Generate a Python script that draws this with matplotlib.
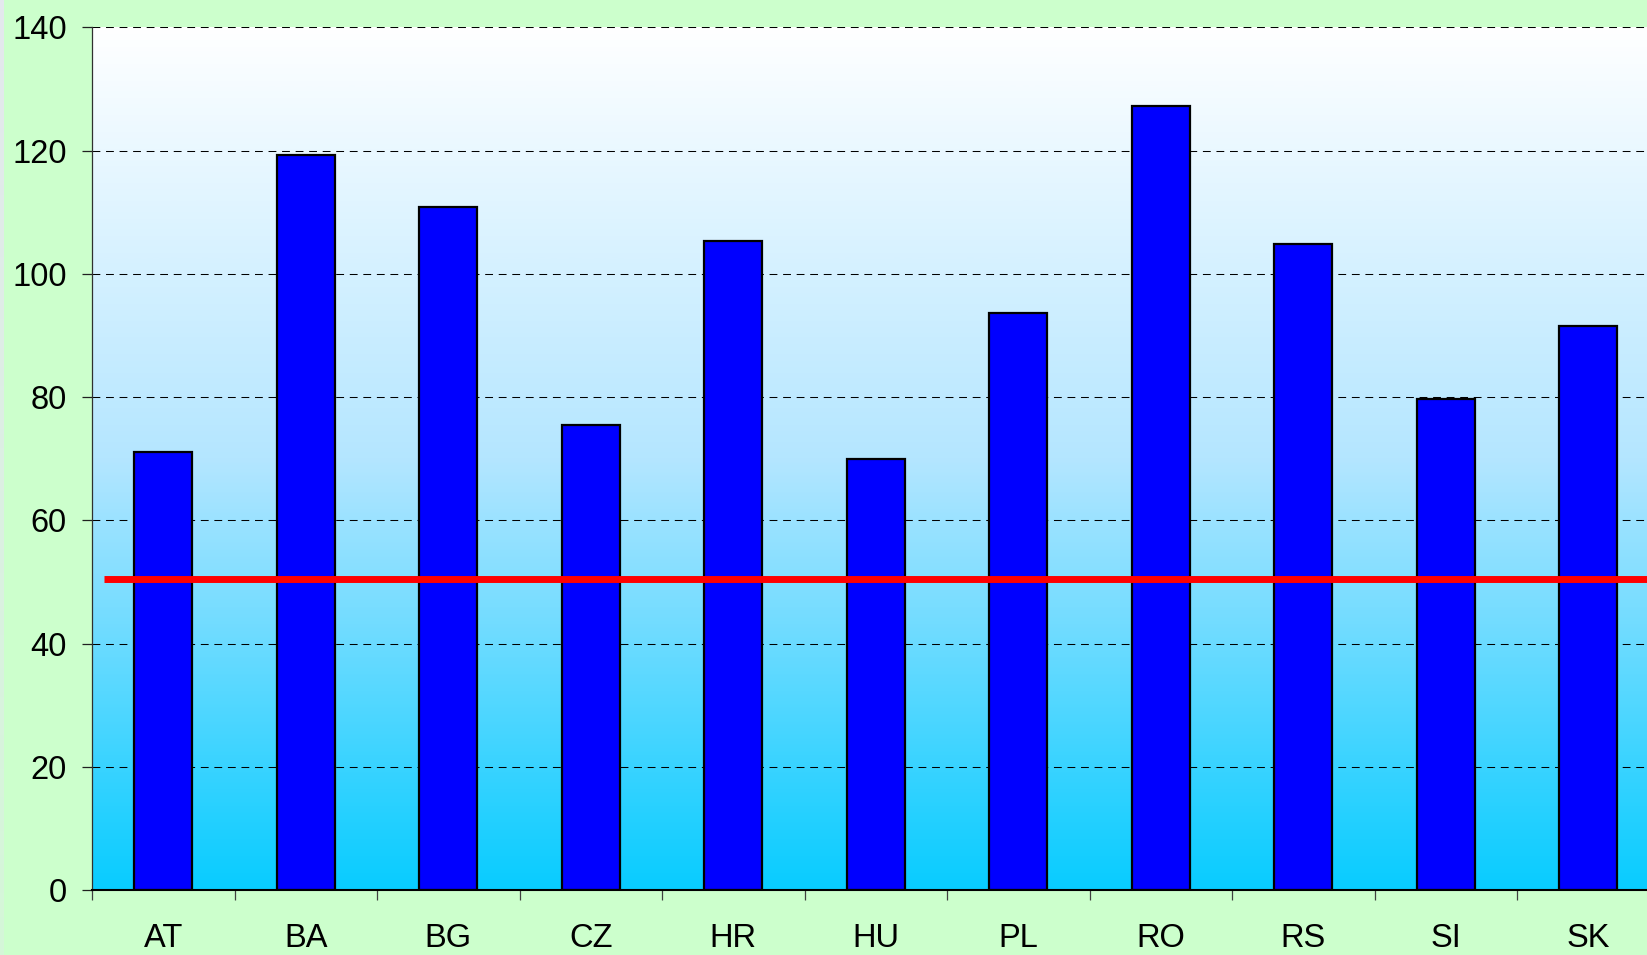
import matplotlib
matplotlib.use("Agg")
import matplotlib.pyplot as plt
import numpy as np
from matplotlib.colors import LinearSegmentedColormap
from matplotlib.ticker import FixedLocator

categories = ["AT", "BA", "BG", "CZ", "HR", "HU", "PL", "RO", "RS", "SI", "SK"]
values = [71.1, 119.3, 110.9, 75.5, 105.4, 70.0, 93.6, 127.3, 104.9, 79.7, 91.5]
threshold = 50.4
yticks = [0, 20, 40, 60, 80, 100, 120, 140]

plt.rcParams['font.family'] = ['Liberation Sans', 'DejaVu Sans']

W, H, DPI = 1647, 955, 100
fig = plt.figure(figsize=(W / DPI, H / DPI), dpi=DPI)
fig.patch.set_facecolor("#CCFFCC")

# faint gray strip at the very left edge
strip_ax = fig.add_axes([0, 0, 4 / W, 1])
strip_ax.axis("off")
grad_strip = np.linspace(1, 0.35, 200).reshape(-1, 1)
strip_cmap = LinearSegmentedColormap.from_list("s", [(0, "#CCFFCC"), (1, "#E4E8EE")])
strip_ax.imshow(grad_strip, aspect="auto", cmap=strip_cmap, vmin=0, vmax=1,
                extent=[0, 1, 0, 1], origin="upper")

ax_left = 92 / W
ax_bottom = 65 / H
ax_width = (11 * 142.5) / W
ax_height = (140 * 6.161) / H
ax = fig.add_axes([ax_left, ax_bottom, ax_width, ax_height])

x = np.arange(len(categories))
ax.set_xlim(-0.5, len(categories) - 0.5)
ax.set_ylim(0, 140)

# gradient plot area background
cmap = LinearSegmentedColormap.from_list(
    "bg", [(0.0, (8/255, 204/255, 255/255)),
           (0.5, (180/255, 230/255, 255/255)),
           (1.0, (1, 1, 1))])
grad = np.linspace(0, 1, 512).reshape(-1, 1)
ax.imshow(grad, aspect="auto", cmap=cmap, origin="lower",
          extent=[-0.5, len(categories) - 0.5, 0, 140], zorder=0)

# gridlines
for yv in yticks[1:]:
    ax.axhline(yv, color="black", lw=0.75, dashes=(7.5, 5.5), zorder=1)

ax.bar(x, values, width=0.41, color="#0000FF", edgecolor="black",
       linewidth=1.6, zorder=3)

ax.plot([-0.5 + 12 / 142.5, len(categories) + 0.5], [threshold, threshold],
        color="#FF0000", lw=5.0, solid_capstyle="butt", zorder=4, clip_on=False)

ax.set_yticks(yticks)
ax.set_yticklabels([str(v) for v in yticks], fontsize=23.5)
ax.tick_params(axis="y", direction="out", length=7.2, width=0.9,
               color="#202020", pad=11)

ax.set_xticks(x)
ax.set_xticklabels(categories, fontsize=23.5)
ax.xaxis.set_minor_locator(FixedLocator(np.arange(-0.5, len(categories) + 0.5, 1)))
ax.tick_params(axis="x", which="major", length=0, pad=24)
ax.tick_params(axis="x", which="minor", direction="out", length=7.2,
               width=0.9, color="#404040")

for s in ["top", "right"]:
    ax.spines[s].set_visible(False)
ax.spines["left"].set_color("#303030")
ax.spines["left"].set_linewidth(0.9)
ax.spines["bottom"].set_color("black")
ax.spines["bottom"].set_linewidth(1.5)
ax.spines["bottom"].set_zorder(5)

fig.savefig("out.png", dpi=DPI, facecolor=fig.get_facecolor())
